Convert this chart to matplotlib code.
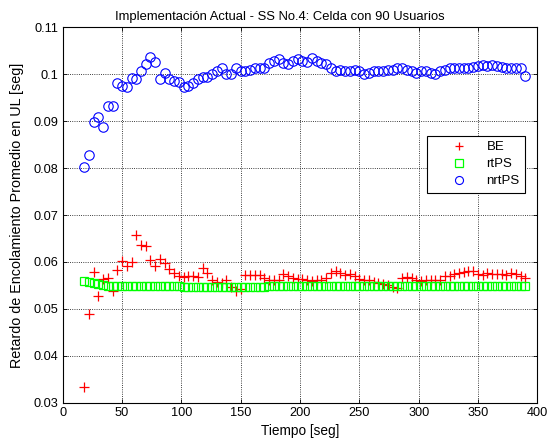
#!/usr/bin/env python3
import numpy as np
import matplotlib
matplotlib.use("Agg")
import matplotlib.pyplot as plt
from matplotlib.ticker import FuncFormatter

plt.rcParams['font.family'] = ['Liberation Sans', 'DejaVu Sans']

# time axis [seg]
tiempo = np.arange(18, 391, 4)

# BE (red +)
be = [0.0333, 0.0490, 0.0579, 0.0527, 0.0564, 0.0566, 0.0538, 0.0582, 0.0601, 0.0591,
      0.0600, 0.0658, 0.0637, 0.0634, 0.0605, 0.0591, 0.0606, 0.0598, 0.0585, 0.0577,
      0.0569, 0.0568, 0.0571, 0.0571, 0.0568, 0.0587, 0.0577, 0.0562, 0.0558, 0.0555,
      0.0561, 0.0547, 0.0538, 0.0543,
      0.0573, 0.0573, 0.0573, 0.0573, 0.0566, 0.0561, 0.0561, 0.0562, 0.0575, 0.0569,
      0.0566, 0.0564, 0.0564, 0.0561, 0.0559, 0.0562, 0.0562, 0.0566, 0.0577, 0.0580,
      0.0577, 0.0573, 0.0575, 0.0569, 0.0564, 0.0562, 0.0561, 0.0557, 0.0554, 0.0552,
      0.0550, 0.0546, 0.0545, 0.0565, 0.0568, 0.0565, 0.0562, 0.0559, 0.0561, 0.0561,
      0.0561, 0.0561, 0.0569, 0.0571, 0.0575, 0.0577, 0.0578, 0.0580, 0.0580, 0.0575,
      0.0573, 0.0577, 0.0575, 0.0575, 0.0575, 0.0573, 0.0577, 0.0575, 0.0569, 0.0566]

# rtPS (green squares)
rtps = [0.0560, 0.0558, 0.0555, 0.0552, 0.0550] + [0.0549] * 11 + [0.0548] * 5 \
       + [0.0546] * 18 + [0.0548] * 55

# nrtPS (blue circles)
nrtps = [0.0802, 0.0827, 0.0898, 0.0908, 0.0887, 0.0933, 0.0933, 0.0982, 0.0975, 0.0972,
         0.0993, 0.0989, 0.1007, 0.1021, 0.1036, 0.1026, 0.0989, 0.1003, 0.0989, 0.0986,
         0.0983, 0.0972, 0.0975, 0.0982, 0.0989, 0.0994, 0.0994, 0.1000, 0.1008, 0.1013,
         0.1001, 0.1001, 0.1013, 0.1007, 0.1007, 0.1010, 0.1014, 0.1014, 0.1014, 0.1024,
         0.1029, 0.1033, 0.1024, 0.1021, 0.1028, 0.1032, 0.1029, 0.1027,
         0.1035, 0.1028, 0.1024, 0.1021, 0.1014, 0.1008, 0.1010, 0.1007, 0.1007, 0.1010,
         0.1008, 0.1001, 0.1003, 0.1007, 0.1008, 0.1008, 0.1010, 0.1010, 0.1014, 0.1014,
         0.1010, 0.1008, 0.1003, 0.1007, 0.1008, 0.1003, 0.1001, 0.1007, 0.1010, 0.1014,
         0.1013, 0.1013, 0.1013, 0.1014, 0.1015, 0.1017, 0.1019, 0.1017, 0.1020, 0.1017,
         0.1015, 0.1014, 0.1014, 0.1014, 0.1014, 0.0996]

xticks = [0, 50, 100, 150, 200, 250, 300, 350, 400]
yticks = [0.03, 0.04, 0.05, 0.06, 0.07, 0.08, 0.09, 0.10, 0.11]

fig = plt.figure(figsize=(5.47, 4.47), dpi=100)
ax = fig.add_axes([0.1146, 0.0993, 0.8677, 0.8394])

ax.plot(tiempo, be, linestyle='None', marker='+', color='#ff0000',
        markersize=6.8, markeredgewidth=0.9, label='BE')
ax.plot(tiempo, rtps, linestyle='None', marker='s', color='#00ff00',
        markerfacecolor='none', markersize=6.3, markeredgewidth=0.9, label='rtPS')
ax.plot(tiempo, nrtps, linestyle='None', marker='o', color='#0000ff',
        markerfacecolor='none', markersize=6.8, markeredgewidth=0.8, label='nrtPS')

ax.set_xlim(0, 400)
ax.set_ylim(0.03, 0.11)
ax.set_xticks(xticks)
ax.set_yticks(yticks)
ax.yaxis.set_major_formatter(FuncFormatter(lambda v, p: '%g' % round(v, 4)))
ax.tick_params(direction='in', length=3, width=0.6, labelsize=9.2,
               top=True, right=True, pad=3)
for s in ax.spines.values():
    s.set_linewidth(0.8)
ax.grid(True, linestyle=':', color='black', linewidth=0.6)

# title sits a bit left of the axes centre in the original
ax.set_title('Implementación Actual - SS No.4: Celda con 90 Usuarios', fontsize=9.4,
             pad=5, x=0.457)
ax.set_xlabel('Tiempo [seg]', fontsize=9.8, labelpad=4)
ax.set_ylabel('Retardo de Encolamiento Promedio en UL [seg]', fontsize=10.4, labelpad=7)

leg = ax.legend(loc='upper left', bbox_to_anchor=(0.768, 0.711), fontsize=9.5,
                fancybox=False, framealpha=1, edgecolor='black', borderaxespad=0,
                handlelength=4.0, handletextpad=0.1, labelspacing=0.36, borderpad=0.4,
                markerscale=0.85)
leg.get_frame().set_linewidth(0.8)

fig.savefig('out.png', dpi=100)
